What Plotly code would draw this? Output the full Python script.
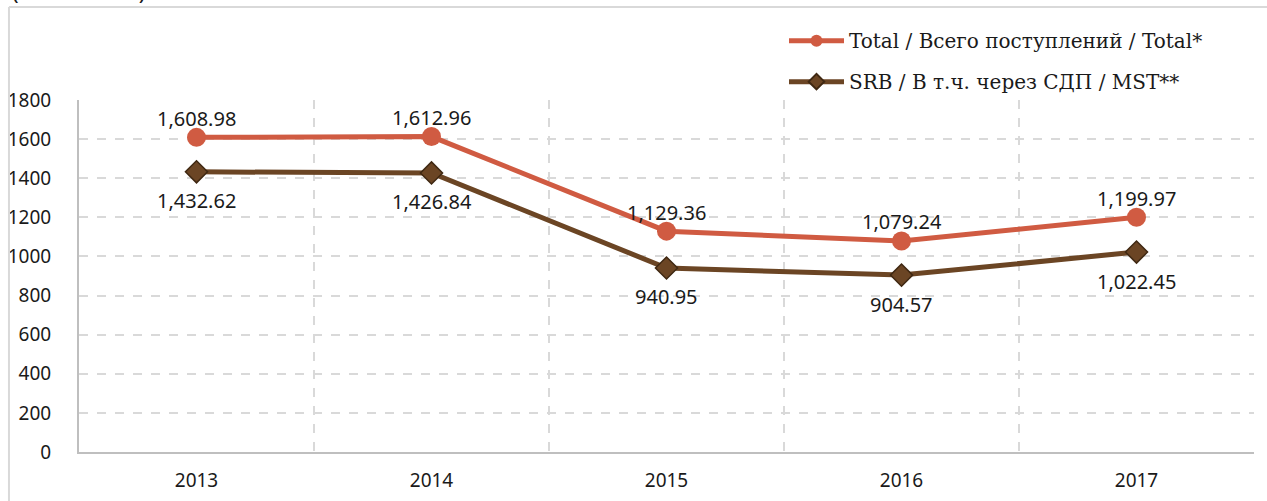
import plotly.graph_objects as go

years = ["2013", "2014", "2015", "2016", "2017"]
total = [1608.98, 1612.96, 1129.36, 1079.24, 1199.97]
srb = [1432.62, 1426.84, 940.95, 904.57, 1022.45]
total_name = "Total / Всего поступлений / Total*"
srb_name = "SRB / В т.ч. через СДП / MST**"
y_ticks = [0, 200, 400, 600, 800, 1000, 1200, 1400, 1600, 1800]

x = list(range(len(years)))
fmt = lambda v: f"{v:,.2f}"

fig = go.Figure()
fig.add_trace(go.Scatter(
    x=x, y=total, name=total_name, mode="lines+markers",
    line=dict(color="#D05B42", width=5),
    marker=dict(symbol="circle", size=19, color="#D05B42"),
    legendgroup="a",
))
fig.add_trace(go.Scatter(
    x=x, y=srb, name=srb_name, mode="lines+markers",
    line=dict(color="#6B4524", width=5),
    marker=dict(symbol="diamond", size=17, color="#6B4524",
                line=dict(color="#3f2812", width=1.5)),
    legendgroup="b",
))

lab_font = dict(family="Noto Sans", size=20, color="#1a1a1a")
annotations = []
for xi, v in zip(x, total):
    annotations.append(dict(x=xi, y=v, text=fmt(v), showarrow=False,
                            yshift=19, font=lab_font, xanchor="center", yanchor="middle"))
for xi, v in zip(x, srb):
    annotations.append(dict(x=xi, y=v, text=fmt(v), showarrow=False,
                            yshift=-29, font=lab_font, xanchor="center", yanchor="middle"))
annotations.append(dict(text="(USD million)", xref="paper", yref="paper", x=-0.0587,
                        y=1.262, xanchor="left", yanchor="bottom", showarrow=False,
                        font=dict(family="Noto Sans", size=22, color="#1a1a1a")))

grid = "#d9d9d9"
fig.update_layout(
    width=1267, height=501,
    margin=dict(l=79, r=13, t=100, b=49, autoexpand=False),
    paper_bgcolor="white", plot_bgcolor="white",
    showlegend=True,
    legend=dict(x=0.6, y=1.224, xanchor="left", yanchor="top",
                font=dict(family="DejaVu Serif", size=20, color="#1a1a1a"),
                tracegroupgap=12, itemwidth=55, itemsizing="constant",
                bgcolor="rgba(0,0,0,0)"),
    xaxis=dict(range=[-0.5, 4.5], tickvals=x, ticktext=years,
               showgrid=False, zeroline=False, automargin=False,
               showline=True, linecolor="#bfbfbf", linewidth=2,
               ticks="", ticklabelstandoff=10,
               tickfont=dict(family="Noto Sans", size=19, color="#1a1a1a"),
               minor=dict(tickvals=[0.5, 1.5, 2.5, 3.5, 4.5], showgrid=True,
                          gridcolor=grid, griddash="dash", gridwidth=1.5, ticks="")),
    yaxis=dict(range=[0, 1800], tickvals=y_ticks, automargin=False,
               showgrid=True, gridcolor=grid, griddash="dash", gridwidth=1.5,
               zeroline=False, showline=True, linecolor="#bfbfbf", linewidth=2,
               ticks="", ticklabelstandoff=22,
               tickfont=dict(family="Noto Sans", size=19, color="#1a1a1a")),
    shapes=[
        dict(type="line", xref="paper", yref="paper", x0=-0.0596, x1=1.02,
             y0=1.264, y1=1.264, line=dict(color="#d9d9d9", width=2)),
        dict(type="line", xref="paper", yref="paper", x0=-0.0596, x1=-0.0596,
             y0=1.264, y1=-0.2, line=dict(color="#d9d9d9", width=2)),
    ],
    annotations=annotations,
)
fig.write_html("out.html", config={"displayModeBar": False})

with open("out.html", encoding="utf-8") as f:
    html = f.read()
html = html.replace("<head>", "<head><style>html,body{margin:0;padding:0;overflow:hidden;}</style>", 1)
with open("out.html", "w", encoding="utf-8") as f:
    f.write(html)
